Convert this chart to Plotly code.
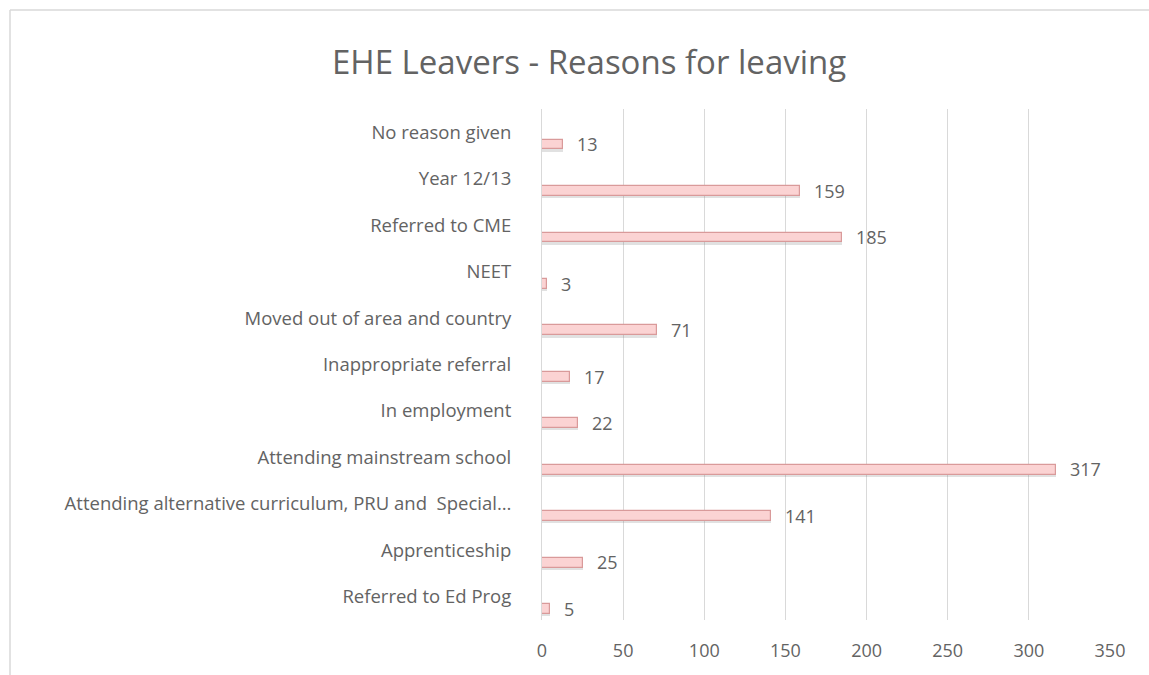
import plotly.graph_objects as go

categories = [
    "Referred to Ed Prog",
    "Apprenticeship",
    "Attending alternative curriculum, PRU and  Special…",
    "Attending mainstream school",
    "In employment",
    "Inappropriate referral",
    "Moved out of area and country",
    "NEET",
    "Referred to CME",
    "Year 12/13",
    "No reason given",
]
values = [5, 25, 141, 317, 22, 17, 71, 3, 185, 159, 13]
x_ticks = [0, 50, 100, 150, 200, 250, 300, 350]
title_text = "EHE Leavers - Reasons for leaving"

W, H = 1149, 675
L, R, T, B = 542, W - 1110, 109, H - 620
pw, ph = W - L - R, H - T - B

FONT = "Open Sans"
TXT = "#636363"

def px_x(p):
    return (p - L) / pw

def px_y(p):
    return (H - B - p) / ph

fig = go.Figure()

bar_w = 0.21
bar_off = -0.37

# subtle shadow under bars
fig.add_trace(go.Bar(
    y=categories, x=values, orientation="h",
    width=bar_w, offset=bar_off - 0.05,
    marker=dict(color="rgba(120,120,120,0.22)", line=dict(width=0)),
    hoverinfo="skip", showlegend=False,
))
fig.add_trace(go.Bar(
    y=categories, x=values, orientation="h",
    width=bar_w, offset=bar_off,
    marker=dict(color="#fbd3d3", line=dict(color="#d99a9a", width=1.2)),
    showlegend=False,
))

for c, v in zip(categories, values):
    fig.add_annotation(
        x=v, y=c, text=str(v), showarrow=False,
        xanchor="left", yanchor="middle", xshift=12, yshift=-12,
        font=dict(family=FONT, size=18, color=TXT),
    )

fig.add_annotation(
    x=px_x(589), y=px_y(62), xref="paper", yref="paper",
    text=title_text, showarrow=False, xanchor="center", yanchor="middle",
    font=dict(family=FONT, size=33, color=TXT),
)

# chart border (top and left)
fig.add_shape(type="line", xref="paper", yref="paper",
              x0=px_x(10), x1=px_x(W + 5), y0=px_y(10), y1=px_y(10),
              line=dict(color="#d9d9d9", width=1.5))
fig.add_shape(type="line", xref="paper", yref="paper",
              x0=px_x(10), x1=px_x(10), y0=px_y(10), y1=px_y(H + 5),
              line=dict(color="#d9d9d9", width=1.5))

fig.update_layout(
    width=W, height=H,
    margin=dict(l=L, r=R, t=T, b=B, pad=0),
    paper_bgcolor="white", plot_bgcolor="white",
    bargap=0,
    xaxis=dict(
        range=[0, 350], tickvals=x_ticks, showgrid=True,
        gridcolor="#d9d9d9", gridwidth=1, zeroline=False,
        showline=False, ticks="", ticklabelstandoff=18,
        tickfont=dict(family=FONT, size=18, color=TXT),
    ),
    yaxis=dict(
        type="category", categoryorder="array", categoryarray=categories,
        showgrid=False, zeroline=False, showline=True, linecolor="#d9d9d9",
        linewidth=1, ticks="", ticklabelstandoff=26,
        tickfont=dict(family=FONT, size=18.5, color=TXT),
        range=[-0.5, len(categories) - 0.5],
    ),
)

fig.write_html(
    "out.html",
    config={"displayModeBar": False},
    post_script="document.body.style.margin='0';document.body.style.padding='0';",
)
